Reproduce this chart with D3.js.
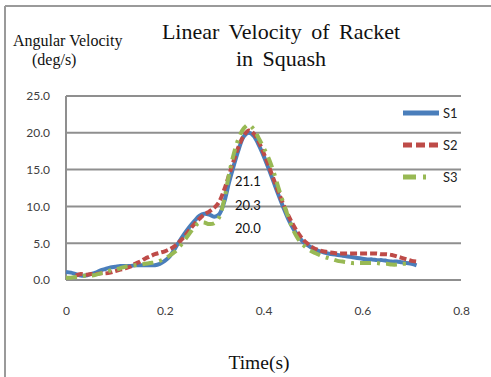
<!DOCTYPE html>
<html>
<head>
<meta charset="utf-8">
<script src="https://cdn.jsdelivr.net/npm/d3@7"></script>
<style>
  html, body { margin: 0; padding: 0; background: #fff; }
  svg { display: block; }
</style>
</head>
<body>
<svg id="chart" width="491" height="377"></svg>
<script>
// Sampling step of every series (s)
const step = 0.01;

// Series names and start times
const seriesNames = ["S1", "S2", "S3"];
const startTimes = [0.00, 0.02, 0.00];

// Racket velocity samples, one per 0.01 s from the start time
const s1Values = [
  1.1, 1.0, 0.8, 0.6, 0.6, 0.8, 1.0, 1.3, 1.5, 1.7,
  1.8, 1.9, 1.9, 1.9, 2.0, 2.0, 2.0, 2.0, 2.0, 2.2,
  2.6, 3.2, 4.2, 5.3, 6.3, 7.2, 8.0, 8.7, 9.0, 8.9,
  8.6, 8.9, 10.5, 13.2, 15.6, 17.8, 19.5, 20.0, 19.6, 18.4,
  16.9, 15.2, 13.4, 11.6, 9.9, 8.3, 7.0, 6.0, 5.2, 4.7,
  4.3, 4.0, 3.8, 3.6, 3.5, 3.4, 3.3, 3.2, 3.1, 3.0,
  2.9, 2.8, 2.8, 2.7, 2.7, 2.6, 2.5, 2.5, 2.4, 2.3,
  2.2, 2.0
];
const s2Values = [
  0.6, 0.8, 0.7, 0.8, 0.8, 0.9, 0.9, 1.0,
  1.2, 1.4, 1.6, 1.8, 2.2, 2.5, 2.9, 3.2, 3.5, 3.7,
  3.9, 4.2, 4.6, 5.2, 5.9, 6.8, 7.6, 8.3, 8.9, 9.3,
  9.8, 10.6, 12.2, 14.2, 16.3, 18.2, 19.6, 20.3, 19.9, 18.8,
  17.3, 15.6, 13.8, 12.0, 10.3, 8.8, 7.5, 6.4, 5.5, 4.9,
  4.4, 4.1, 3.9, 3.8, 3.7, 3.6, 3.6, 3.6, 3.6, 3.6,
  3.6, 3.6, 3.6, 3.6, 3.5, 3.5, 3.4, 3.2, 3.0, 2.8,
  2.6, 2.5
];
const s3Values = [
  0.3, 0.3, 0.4, 0.5, 0.6, 0.6, 0.7, 0.9, 1.1, 1.3,
  1.4, 1.6, 1.8, 1.9, 2.0, 2.1, 2.2, 2.3, 2.4, 2.6,
  2.9, 3.3, 3.8, 4.5, 5.4, 6.3, 7.2, 7.8, 7.8, 7.6,
  7.7, 8.5, 10.8, 14.3, 17.2, 19.3, 20.6, 21.1, 20.5, 19.3,
  18.0, 16.6, 14.8, 12.6, 10.5, 8.6, 6.8, 5.6, 4.8, 4.2,
  3.8, 3.5, 3.2, 3.0, 2.8, 2.6, 2.5, 2.4, 2.3, 2.3,
  2.3, 2.3, 2.3, 2.3, 2.2, 2.2, 2.1, 2.1, 2.2, 2.2
];

// Axis ticks
const xTicks = [0, 0.2, 0.4, 0.6, 0.8];
const yTicks = [0, 5, 10, 15, 20, 25];

// Text
const titleLines = ["Linear Velocity of Racket", "in Squash"];
const yTitleLines = ["Angular Velocity", "(deg/s)"];
const xTitle = "Time(s)";

const colors = ["#4a7ebb", "#be4b48", "#98b954"];
const dashes = [null, "7 3", "11 6 3 6"];

const svg = d3.select("#chart");

// Frame
svg.append("line").attr("x1", 5).attr("y1", 6).attr("x2", 491).attr("y2", 6)
  .attr("stroke", "#9a9a9a").attr("stroke-width", 2);
svg.append("line").attr("x1", 5).attr("y1", 6).attr("x2", 5).attr("y2", 377)
  .attr("stroke", "#9a9a9a").attr("stroke-width", 2);

const x = d3.scaleLinear().domain([0, 0.8]).range([66, 461]);
const y = d3.scaleLinear().domain([0, 25]).range([280, 96]);

// Horizontal gridlines
svg.append("g").selectAll("line").data(yTicks).join("line")
  .attr("x1", x(0)).attr("x2", x(0.8))
  .attr("y1", d => y(d)).attr("y2", d => y(d))
  .attr("stroke", "#8f8f8f").attr("stroke-width", 2);

// Vertical axis line
svg.append("line").attr("x1", x(0)).attr("x2", x(0))
  .attr("y1", y(0)).attr("y2", y(25))
  .attr("stroke", "#8f8f8f").attr("stroke-width", 2);

// Y tick labels
const yAxis = d3.axisLeft(y).tickValues(yTicks).tickFormat(d3.format(".1f")).tickSize(0).tickPadding(16);
const gy = svg.append("g").attr("transform", `translate(${x(0)},0)`).call(yAxis);
gy.select(".domain").remove();
gy.selectAll("text").attr("font-family", "Lato, 'Noto Sans', sans-serif")
  .attr("font-size", 12).attr("fill", "#404040");

// X tick labels
const xAxis = d3.axisBottom(x).tickValues(xTicks).tickFormat(d => d === 0 ? "0" : d3.format(".1f")(d)).tickSize(0).tickPadding(26);
const gx = svg.append("g").attr("transform", `translate(0,${y(0)})`).call(xAxis);
gx.select(".domain").remove();
gx.selectAll("text").attr("font-family", "Lato, 'Noto Sans', sans-serif")
  .attr("font-size", 12).attr("fill", "#404040");

// Series
const series = [s1Values, s2Values, s3Values].map((vals, i) => ({
  name: seriesNames[i],
  color: colors[i],
  dash: dashes[i],
  points: vals.map((v, j) => ({ t: startTimes[i] + j * step, v }))
}));

const line = d3.line().x(d => x(d.t)).y(d => y(d.v)).curve(d3.curveCatmullRom);

// Draw S1 first, then S2, then S3 on top
svg.append("g").selectAll("path").data(series).join("path")
  .attr("d", d => line(d.points))
  .attr("fill", "none")
  .attr("stroke", d => d.color)
  .attr("stroke-width", 4)
  .attr("stroke-dasharray", d => d.dash)
  .attr("stroke-linejoin", "round");

// Peak value labels
const peaks = series.map(s => d3.max(s.points, p => p.v)).reverse();
svg.append("g").selectAll("text").data(peaks).join("text")
  .attr("x", 235).attr("y", (d, i) => 186 + i * 23.5)
  .attr("font-family", "Lato, 'Noto Sans', sans-serif")
  .attr("font-size", 13).attr("fill", "#111")
  .text(d => d3.format(".1f")(d));

// Legend
const legend = svg.append("g").selectAll("g").data(series).join("g")
  .attr("transform", (d, i) => `translate(403,${113 + i * 32})`);
legend.append("line").attr("x1", 0).attr("x2", 36).attr("y1", 0).attr("y2", 0)
  .attr("stroke", d => d.color).attr("stroke-width", 5)
  .attr("stroke-dasharray", (d, i) => i === 1 ? "9 4" : (i === 2 ? "13 7 3 20" : null));
legend.append("text").attr("x", 40).attr("y", 0).attr("dy", "0.35em")
  .attr("font-family", "Lato, 'Noto Sans', sans-serif")
  .attr("font-size", 13).attr("fill", "#222")
  .text(d => d.name);

// Titles
svg.append("text").attr("text-anchor", "middle")
  .attr("font-family", "'Liberation Serif', 'DejaVu Serif', serif")
  .attr("font-size", 22).attr("word-spacing", 4).attr("fill", "#111")
  .selectAll("tspan").data(titleLines).join("tspan")
  .attr("x", 281).attr("y", (d, i) => 39 + i * 27).text(d => d);

svg.append("text")
  .attr("font-family", "'Liberation Serif', 'DejaVu Serif', serif")
  .attr("font-size", 16).attr("fill", "#111")
  .selectAll("tspan").data(yTitleLines).join("tspan")
  .attr("x", (d, i) => i === 0 ? 13 : 32).attr("y", (d, i) => 46 + i * 19).text(d => d);

svg.append("text").attr("text-anchor", "middle")
  .attr("x", 259).attr("y", 369)
  .attr("font-family", "'Liberation Serif', 'DejaVu Serif', serif")
  .attr("font-size", 19.5).attr("fill", "#111")
  .text(xTitle);
</script>
</body>
</html>
